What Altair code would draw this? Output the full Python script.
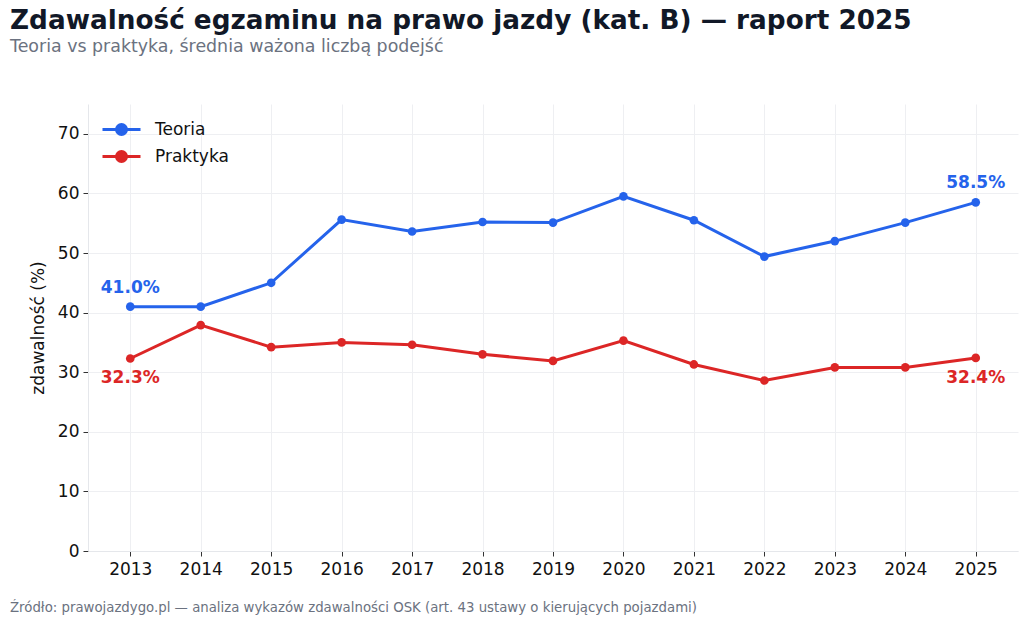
import altair as alt
import pandas as pd

years = list(range(2013, 2026))
teoria = [41.0, 41.0, 45.0, 55.6, 53.6, 55.2, 55.1, 59.5, 55.5, 49.4, 52.0, 55.1, 58.5]
praktyka = [32.3, 37.9, 34.2, 35.0, 34.6, 33.0, 31.9, 35.3, 31.3, 28.6, 30.8, 30.8, 32.4]
series_names = ["Teoria", "Praktyka"]
series_colors = ["#2563eb", "#dc2626"]

title_text = "Zdawalność egzaminu na prawo jazdy (kat. B) — raport 2025"
subtitle_text = "Teoria vs praktyka, średnia ważona liczbą podejść"
source_text = "Źródło: prawojazdygo.pl — analiza wykazów zdawalności OSK (art. 43 ustawy o kierujących pojazdami)"

rows = []
for y, t, p in zip(years, teoria, praktyka):
    rows.append({"rok": y, "seria": "Teoria", "val": t})
    rows.append({"rok": y, "seria": "Praktyka", "val": p})
df = pd.DataFrame(rows)

FONT = "DejaVu Sans"

x_enc = alt.X("rok:Q", scale=alt.Scale(domain=[2012.4, 2025.6], nice=False, zero=False),
              axis=alt.Axis(values=years, format="d", title=None, grid=True))
y_enc = alt.Y("val:Q", scale=alt.Scale(domain=[0, 75], nice=False),
              axis=alt.Axis(values=list(range(0, 80, 10)), title="zdawalność (%)", grid=True))
color_enc = alt.Color("seria:N", scale=alt.Scale(domain=series_names, range=series_colors),
                      legend=alt.Legend(title=None, orient="none", legendX=22, legendY=14,
                                        symbolType="M-1.9,0L1.9,0M0.5,0A0.5,0.5,0,1,1,-0.5,0A0.5,0.5,0,1,1,0.5,0",
                                        symbolSize=400, symbolStrokeWidth=3,
                                        labelFontSize=17, labelFont=FONT, labelColor="#111111",
                                        labelOffset=22, rowPadding=4))

base = alt.Chart(df)
lines = base.mark_line(strokeWidth=3).encode(x=x_enc, y=y_enc, color=color_enc)
points = base.mark_point(filled=True, size=75, opacity=1).encode(
    x="rok:Q", y="val:Q",
    color=alt.Color("seria:N", scale=alt.Scale(domain=series_names, range=series_colors), legend=None))

first_last = df[df["rok"].isin([years[0], years[-1]])].copy()
first_last["lbl"] = first_last["val"].map(lambda v: f"{v:.1f}%")
lab_t = alt.Chart(first_last[first_last["seria"] == "Teoria"]).mark_text(
    dy=-19, fontSize=17, fontWeight="bold", font=FONT, color=series_colors[0]
).encode(x="rok:Q", y="val:Q", text="lbl:N")
lab_p = alt.Chart(first_last[first_last["seria"] == "Praktyka"]).mark_text(
    dy=20, fontSize=17, fontWeight="bold", font=FONT, color=series_colors[1]
).encode(x="rok:Q", y="val:Q", text="lbl:N")

tdf = pd.DataFrame({"t": [title_text]})
sdf = pd.DataFrame({"t": [subtitle_text]})
fdf = pd.DataFrame({"t": [source_text]})
title_m = alt.Chart(tdf).mark_text(align="left", baseline="alphabetic", fontSize=26.3, fontWeight="bold",
                                   font=FONT, color="#111827").encode(
    x=alt.value(-78), y=alt.value(-75), text="t:N")
sub_m = alt.Chart(sdf).mark_text(align="left", baseline="alphabetic", fontSize=17.4,
                                 font=FONT, color="#6b7280").encode(
    x=alt.value(-78), y=alt.value(-52), text="t:N")
foot_m = alt.Chart(fdf).mark_text(align="left", baseline="alphabetic", fontSize=13.3,
                                  font=FONT, color="#6b7280").encode(
    x=alt.value(-78), y=alt.value(508), text="t:N")

chart = alt.layer(lines, points, lab_t, lab_p, title_m, sub_m, foot_m).properties(
    width=930, height=447,
    autosize=alt.AutoSizeParams(type="none"),
    padding={"left": 88, "top": 104, "right": 10, "bottom": 73},
    background="white",
).configure_view(stroke=None).configure_axis(
    gridColor="#eeeff2", gridWidth=1, domainColor="#e5e7eb", domainWidth=1,
    tickColor="#333333", tickSize=5, labelFontSize=17, labelFont=FONT, labelColor="#111111",
    titleFontSize=17, titleFont=FONT, titleColor="#111111", titleFontWeight="normal", labelPadding=4,
).configure_axisY(titlePadding=10).configure_axisX(labelPadding=5)

chart.save("out.html", embed_options={"renderer": "svg", "actions": False})
